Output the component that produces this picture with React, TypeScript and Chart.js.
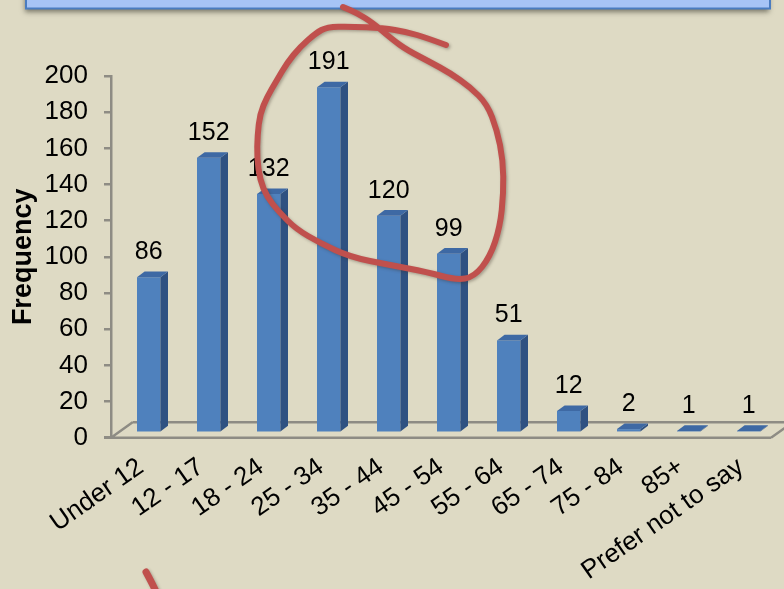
import React, { useEffect, useRef } from "react";
import { Chart, registerables } from "chart.js";

Chart.register(...registerables);

// Survey responses per age group
const ageGroups = [
  "Under 12",
  "12 - 17",
  "18 - 24",
  "25 - 34",
  "35 - 44",
  "45 - 54",
  "55 - 64",
  "65 - 74",
  "75 - 84",
  "85+",
  "Prefer not to say",
];
const frequency = [86, 152, 132, 191, 120, 99, 51, 12, 2, 1, 1];

const yMin = 0;
const yMax = 200;
const yStep = 20;

const W = 784;
const H = 589;
const FONT = '"Liberation Sans", Arial, sans-serif';
const BG = "#dedac4";
const AXIS = "#8e8c84";
const BAR_FRONT = "#4f81bd";
const BAR_SIDE = "#2f5181";
const BAR_TOP = "#3e69a4";
const PEN = "#c0504d";

// pseudo-3D geometry (pixels)
const BAR_SHIFT = { x: 7.7, y: -5 };
const BAR_DEPTH = { x: 7.6, y: -5.6 };
const FLOOR_DEPTH = { x: 21.6, y: -15.4 };

// hand-drawn pen ring around the 18-54 groups
const penRing: [number, number][] = [
  [446, 45], [427, 38], [407, 32], [383, 28], [350, 26.5], [327, 27],
  [316, 33], [300, 47], [287, 63], [277, 80], [267, 97], [260, 114],
  [257.5, 135], [257, 158], [260, 180], [267, 197], [279, 212],
  [296, 229], [320, 243], [350, 257], [390, 265], [427, 272],
  [456, 280], [474, 277], [490, 257], [500, 227], [503.5, 193],
  [503, 160], [497, 130], [487, 104], [470, 87], [450, 73],
  [430, 62], [407, 50], [393, 40], [373, 23], [357, 13], [343, 7],
];
const penTick: [number, number][] = [[146, 572], [152, 583], [158, 596]];

function strokeSmooth(ctx: CanvasRenderingContext2D, pts: [number, number][]) {
  ctx.beginPath();
  ctx.moveTo(pts[0][0], pts[0][1]);
  for (let i = 1; i < pts.length - 1; i++) {
    const mx = (pts[i][0] + pts[i + 1][0]) / 2;
    const my = (pts[i][1] + pts[i + 1][1]) / 2;
    ctx.quadraticCurveTo(pts[i][0], pts[i][1], mx, my);
  }
  const last = pts[pts.length - 1];
  ctx.lineTo(last[0], last[1]);
  ctx.stroke();
}

const scenePlugin = {
  id: "scene3d",
  beforeDraw(chart: any) {
    const ctx: CanvasRenderingContext2D = chart.ctx;
    ctx.save();
    ctx.fillStyle = BG;
    ctx.fillRect(0, 0, chart.width, chart.height);
    // title banner strip
    ctx.shadowColor = "rgba(40,40,30,0.55)";
    ctx.shadowBlur = 5;
    ctx.shadowOffsetX = -1;
    ctx.shadowOffsetY = 3;
    ctx.fillStyle = "#a7c4f6";
    ctx.fillRect(26, -10, 744, 18.5);
    ctx.shadowColor = "transparent";
    ctx.strokeStyle = "#4a7cc0";
    ctx.lineWidth = 2;
    ctx.strokeRect(26, -10, 744, 18.5);
    ctx.restore();
  },
  beforeDatasetsDraw(chart: any) {
    const ctx: CanvasRenderingContext2D = chart.ctx;
    const { left, right, bottom } = chart.chartArea;
    ctx.save();
    ctx.strokeStyle = AXIS;
    ctx.lineWidth = 2.5;
    ctx.beginPath();
    // floor: back edge, side edges, front edge
    ctx.moveTo(left + FLOOR_DEPTH.x, bottom + FLOOR_DEPTH.y);
    ctx.lineTo(chart.width + 30, bottom + FLOOR_DEPTH.y);
    ctx.moveTo(left, bottom);
    ctx.lineTo(left + FLOOR_DEPTH.x, bottom + FLOOR_DEPTH.y);
    ctx.moveTo(right, bottom);
    ctx.lineTo(right + FLOOR_DEPTH.x, bottom + FLOOR_DEPTH.y);
    ctx.moveTo(left - 7, bottom);
    ctx.lineTo(right, bottom);
    ctx.stroke();
    ctx.restore();
    ctx.save();
    ctx.translate(BAR_SHIFT.x, BAR_SHIFT.y);
  },
  afterDatasetsDraw(chart: any) {
    const ctx: CanvasRenderingContext2D = chart.ctx;
    const meta = chart.getDatasetMeta(0);
    const values = chart.data.datasets[0].data as number[];
    meta.data.forEach((el: any, i: number) => {
      const { x, y, base, width } = el.getProps(["x", "y", "base", "width"], true);
      const l = x - width / 2;
      const r = x + width / 2;
      const dx = BAR_DEPTH.x;
      const dy = BAR_DEPTH.y;
      ctx.fillStyle = BAR_SIDE;
      ctx.beginPath();
      ctx.moveTo(r, y);
      ctx.lineTo(r + dx, y + dy);
      ctx.lineTo(r + dx, base + dy);
      ctx.lineTo(r, base);
      ctx.closePath();
      ctx.fill();
      ctx.fillStyle = BAR_TOP;
      ctx.beginPath();
      ctx.moveTo(l, y);
      ctx.lineTo(l + dx, y + dy);
      ctx.lineTo(r + dx, y + dy);
      ctx.lineTo(r, y);
      ctx.closePath();
      ctx.fill();
      ctx.fillStyle = "#000";
      ctx.font = `25px ${FONT}`;
      ctx.textAlign = "center";
      ctx.textBaseline = "alphabetic";
      ctx.fillText(String(values[i]), x, y - 18);
    });
    ctx.restore();
  },
  afterDraw(chart: any) {
    const ctx: CanvasRenderingContext2D = chart.ctx;
    ctx.save();
    ctx.strokeStyle = PEN;
    ctx.lineCap = "round";
    ctx.lineJoin = "round";
    ctx.shadowColor = "rgba(60,50,40,0.35)";
    ctx.shadowBlur = 3;
    ctx.shadowOffsetX = 1.5;
    ctx.shadowOffsetY = 1.5;
    ctx.lineWidth = 6;
    strokeSmooth(ctx, penRing);
    ctx.lineWidth = 7;
    strokeSmooth(ctx, penTick);
    ctx.restore();
  },
};

export default function App() {
  const canvasRef = useRef<HTMLCanvasElement | null>(null);

  useEffect(() => {
    document.body.style.margin = "0";
    document.body.style.background = BG;
    const canvas = canvasRef.current;
    if (!canvas) return;
    const chart = new Chart(canvas, {
      type: "bar",
      data: {
        labels: ageGroups,
        datasets: [
          {
            data: frequency,
            backgroundColor: BAR_FRONT,
            borderWidth: 0,
            categoryPercentage: 1,
            barPercentage: 0.39,
            clip: false as any,
          },
        ],
      },
      options: {
        responsive: false,
        devicePixelRatio: 1,
        animation: false,
        events: [],
        layout: { padding: { top: 76, right: 13, left: 0, bottom: 0 } },
        plugins: {
          legend: { display: false },
          tooltip: { enabled: false },
        },
        scales: {
          x: {
            offset: true,
            grid: { display: false },
            border: { display: false },
            ticks: {
              autoSkip: false,
              maxRotation: 35,
              minRotation: 35,
              padding: 6,
              color: "#000",
              font: { family: FONT, size: 26 },
            },
            afterFit(scale: any) {
              scale.height = 151.3;
            },
          },
          y: {
            min: yMin,
            max: yMax,
            grid: {
              drawOnChartArea: false,
              drawTicks: true,
              tickLength: 7,
              color: AXIS,
              lineWidth: 2.5,
            },
            border: { display: true, color: AXIS, width: 2.5 },
            ticks: {
              stepSize: yStep,
              padding: 16,
              color: "#000",
              font: { family: FONT, size: 26 },
            },
            title: {
              display: true,
              text: "Frequency",
              color: "#000",
              padding: { top: 7, bottom: 0 },
              font: { family: FONT, size: 27, weight: "bold" },
            },
            afterFit(scale: any) {
              scale.width = 111;
            },
          },
        },
      },
      plugins: [scenePlugin],
    });
    return () => chart.destroy();
  }, []);

  return (
    <div style={{ position: "fixed", left: 0, top: 0, width: W, height: H, background: BG }}>
      <canvas ref={canvasRef} width={W} height={H} style={{ display: "block" }} />
    </div>
  );
}
